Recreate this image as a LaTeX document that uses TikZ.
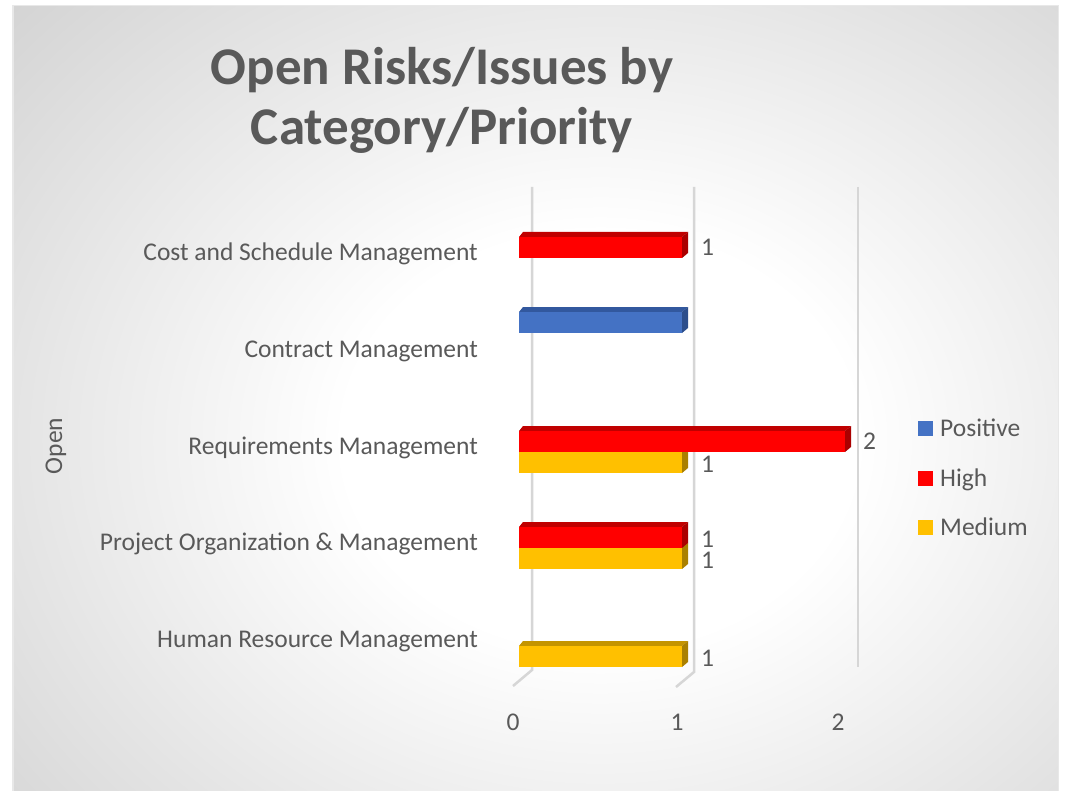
\documentclass[tikz,border=0pt]{standalone}
\usepackage{fontspec}
\setmainfont{Carlito}
\definecolor{txt}{RGB}{89,89,89}
\definecolor{gridc}{RGB}{214,214,214}
\definecolor{bgA}{RGB}{228,228,228}
\definecolor{bgB}{RGB}{202,202,202}
\definecolor{bgC}{RGB}{186,186,186}
\definecolor{bgD}{RGB}{166,166,166}
\definecolor{hiF}{RGB}{255,0,0}
\definecolor{hiT}{RGB}{192,0,0}
\definecolor{hiS}{RGB}{170,0,0}
\definecolor{poF}{RGB}{68,114,196}
\definecolor{poT}{RGB}{50,88,158}
\definecolor{poS}{RGB}{44,78,140}
\definecolor{meF}{RGB}{255,192,0}
\definecolor{meT}{RGB}{196,148,0}
\definecolor{meS}{RGB}{170,128,0}
\pgfdeclareradialshading{chartbg}{\pgfpoint{0bp}{0bp}}{color(0bp)=(white); color(10bp)=(white); color(23bp)=(bgA); color(36bp)=(bgB); color(46bp)=(bgC); color(62bp)=(bgD); color(80bp)=(bgD)}
\newcommand\threedbar[5]{%
  \pgfmathsetmacro\xr{519+163*#2}%
  \fill[#4] (519,#1) -- (523,#1-5) -- (\xr+6,#1-5) -- (\xr,#1) -- cycle;
  \fill[#5] (\xr,#1) -- (\xr+6,#1-5) -- (\xr+6,#1+16) -- (\xr,#1+21) -- cycle;
  \fill[#3] (519,#1) rectangle (\xr,#1+21);
}
\tikzset{
  lbl/.style={text=txt, font=\fontsize{25.5}{30}\selectfont, inner sep=0pt},
  ttl/.style={text=txt, font=\fontsize{53}{63}\selectfont\bfseries, inner sep=0pt, anchor=base},
  gridline/.style={draw=gridc, line width=2.5pt},
}
\begin{document}
\begin{tikzpicture}[x=1pt, y=-1pt]
\clip (0,0) rectangle (1067,791);
\useasboundingbox (0,0) rectangle (1067,791);
\fill[white] (0,0) rectangle (1067,791);
% chart area background
\begin{scope}
  \clip (13,6) rectangle (1058,800);
  \shade[shading=chartbg] (-40,-80) rectangle (1240,960);
\end{scope}
\draw[gray!18, line width=1.5pt] (13,5.5) rectangle (1058.5,800);
% title
\node[ttl] (title1) at (442,85) {Open Risks/Issues by};
\node[ttl] (title2) at (442,145) {Category/Priority};
% gridlines and floor
\draw[gridline] (532,187) -- (532,670) -- (513,686);
\draw[gridline] (694,187) -- (694,672) -- (676,687);
\draw[gridline] (858,187) -- (858,667);
% bars
\threedbar{237}{1}{hiF}{hiT}{hiS}
\threedbar{312}{1}{poF}{poT}{poS}
\threedbar{452}{1}{meF}{meT}{meS}
\threedbar{431}{2}{hiF}{hiT}{hiS}
\threedbar{548}{1}{meF}{meT}{meS}
\threedbar{527}{1}{hiF}{hiT}{hiS}
\threedbar{646}{1}{meF}{meT}{meS}
% data labels
\node[lbl, anchor=base west] (d1) at (701,256) {1};
\node[lbl, anchor=base west] (d2) at (863,449) {2};
\node[lbl, anchor=base west] (d3) at (701,472) {1};
\node[lbl, anchor=base west] (d4) at (701,547) {1};
\node[lbl, anchor=base west] (d5) at (701,568) {1};
\node[lbl, anchor=base west] (d6) at (701,666) {1};
% category labels
\node[lbl, anchor=base east] (c1) at (478,261) {Cost and Schedule Management};
\node[lbl, anchor=base east] (c2) at (478,357.5) {Contract Management};
\node[lbl, anchor=base east] (c3) at (478,454) {Requirements Management};
\node[lbl, anchor=base east] (c4) at (478,550.5) {Project Organization \& Management};
\node[lbl, anchor=base east] (c5) at (478,647) {Human Resource Management};
% axis labels
\node[lbl, anchor=base] (x0) at (513,730) {0};
\node[lbl, anchor=base] (x1) at (677,730) {1};
\node[lbl, anchor=base] (x2) at (838,730) {2};
% axis title
\node[lbl, anchor=base, rotate=90] (ytitle) at (62,446) {Open};
% legend
\fill[poF] (918,421) rectangle (933,436);
\node[lbl, anchor=base west] (lg1) at (940,436) {Positive};
\fill[hiF] (918,471) rectangle (933,486);
\node[lbl, anchor=base west] (lg2) at (940,486) {High};
\fill[meF] (918,520) rectangle (933,535);
\node[lbl, anchor=base west] (lg3) at (940,535) {Medium};
\end{tikzpicture}
\end{document}
